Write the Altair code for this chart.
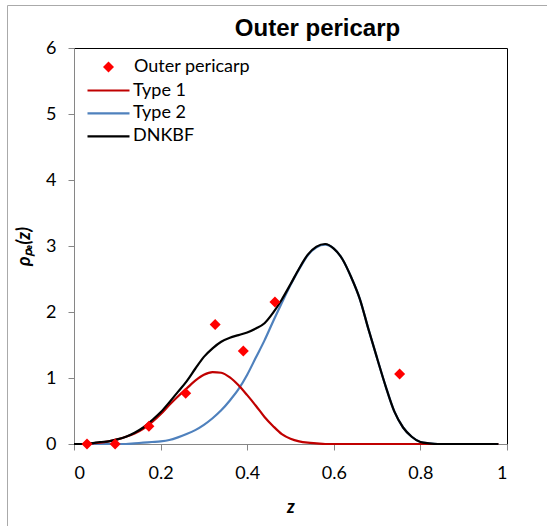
import altair as alt
import pandas as pd

# ---- data ----
z = [0.00, 0.02, 0.04, 0.06, 0.08, 0.10, 0.12, 0.14, 0.16, 0.18,
     0.20, 0.22, 0.24, 0.26, 0.28, 0.30, 0.32, 0.34, 0.36, 0.38,
     0.40, 0.42, 0.44, 0.46, 0.48, 0.50, 0.52, 0.54, 0.56, 0.58,
     0.60, 0.62, 0.64, 0.66, 0.68, 0.70, 0.72, 0.74, 0.76, 0.78,
     0.80, 0.82, 0.84, 0.86, 0.88, 0.90, 0.92, 0.94, 0.96, 0.98]

type1 = [0, 0, 0.01, 0.02, 0.04, 0.07, 0.11, 0.16, 0.23, 0.33,
         0.45, 0.59, 0.72, 0.84, 0.96, 1.05, 1.09, 1.08, 1.01, 0.89,
         0.74, 0.58, 0.41, 0.27, 0.15, 0.08, 0.04, 0.02, 0.01, 0,
         0, 0, 0, 0, 0, 0, 0, 0, 0, 0,
         0, 0, 0, 0, 0, 0, 0, 0, 0, 0]

type2 = [0, 0, 0, 0, 0, 0, 0, 0.01, 0.02, 0.03,
         0.04, 0.06, 0.10, 0.15, 0.21, 0.29, 0.39, 0.51, 0.66, 0.83,
         1.05, 1.31, 1.57, 1.86, 2.14, 2.41, 2.65, 2.86, 2.98, 3.02,
         2.96, 2.80, 2.53, 2.20, 1.74, 1.30, 0.87, 0.49, 0.25, 0.11,
         0.03, 0.01, 0, 0, 0, 0, 0, 0, 0, 0]

dnkbf = [0, 0, 0.01, 0.03, 0.04, 0.07, 0.11, 0.17, 0.25, 0.36,
         0.48, 0.63, 0.79, 0.95, 1.14, 1.32, 1.45, 1.55, 1.61, 1.65,
         1.69, 1.75, 1.83, 1.99, 2.19, 2.42, 2.66, 2.87, 2.99, 3.03,
         2.96, 2.80, 2.53, 2.20, 1.74, 1.30, 0.87, 0.49, 0.25, 0.11,
         0.03, 0.01, 0, 0, 0, 0, 0, 0, 0, 0]

obs_z = [0.030, 0.095, 0.173, 0.258, 0.326, 0.391, 0.464, 0.752]
obs_rho = [0.00, 0.00, 0.27, 0.77, 1.81, 1.41, 2.15, 1.06]

x_ticks = [0, 0.2, 0.4, 0.6, 0.8, 1]
y_ticks = [0, 1, 2, 3, 4, 5, 6]

series_names = ["Type 1", "Type 2", "DNKBF"]
series_colors = ["#C00000", "#4F81BD", "#000000"]
series_widths = [2.2, 2.2, 2.6]
obs_name = "Outer pericarp"

# ---- tables ----
lines = pd.DataFrame({
    "z": z * 3,
    "rho": type1 + type2 + dnkbf,
    "series": [series_names[0]] * len(z) + [series_names[1]] * len(z) + [series_names[2]] * len(z),
})
pts = pd.DataFrame({"z": obs_z, "rho": obs_rho, "label": [obs_name] * len(obs_z)})

FONT = "Lato"

x_enc = alt.X(
    "z:Q",
    scale=alt.Scale(domain=[0, 1], nice=False, zero=False),
    axis=alt.Axis(values=x_ticks, format="~g", title="z", grid=False,
                  titleFontStyle="italic", titleFontWeight="bold",
                  titleFontSize=18, titleFont=FONT, titlePadding=16,
                  labelPadding=14),
)
y_enc = alt.Y(
    "rho:Q",
    scale=alt.Scale(domain=[0, 6], nice=False),
    axis=alt.Axis(values=y_ticks, title="ρₚₑ(z)", grid=False,
                  titleFontStyle="italic", titleFontWeight="bold",
                  titleFontSize=18, titleFont=FONT, titlePadding=12,
                  labelPadding=12),
)

stroke_enc = alt.Stroke(
    "series:N",
    scale=alt.Scale(domain=series_names, range=series_colors),
    legend=alt.Legend(orient="none", legendX=25.5, legendY=33.5, title=None,
                      symbolType="M-10.5,0H10.5", symbolSize=16, symbolStrokeWidth=2.5,
                      labelOffset=15.5, rowPadding=4.9, padding=0,
                      labelFont=FONT, labelFontSize=18, labelColor="black"),
)
width_enc = alt.StrokeWidth(
    "series:N",
    scale=alt.Scale(domain=series_names, range=series_widths),
    legend=None,
)

frame_src = pd.DataFrame({"d": [0]})
frame_left = alt.Chart(frame_src).mark_rule(color="#AAAAAA", strokeWidth=1).encode(
    x=alt.value(-66.5), y=alt.value(-42.5), y2=alt.value(600)
)
frame_top = alt.Chart(frame_src).mark_rule(color="#AAAAAA", strokeWidth=1).encode(
    x=alt.value(-66.5), x2=alt.value(600), y=alt.value(-42.5)
)

def line_layer(name):
    return alt.Chart(lines).transform_filter(
        alt.datum.series == name
    ).mark_line(interpolate="monotone").encode(
        x=x_enc, y=y_enc, stroke=stroke_enc, strokeWidth=width_enc
    )

points = alt.Chart(pts).mark_point(
    filled=True, shape="diamond", size=121, strokeWidth=0, opacity=1
).encode(
    x=x_enc, y=y_enc,
    fill=alt.Fill(
        "label:N",
        scale=alt.Scale(domain=[obs_name], range=["#FF0000"]),
        legend=alt.Legend(orient="none", legendX=25.5, legendY=10, title=None,
                          symbolType="diamond", symbolSize=121, symbolStrokeWidth=0,
                          labelOffset=16.5, padding=0,
                          labelFont=FONT, labelFontSize=18, labelColor="black"),
    ),
)

chart = alt.layer(
    frame_left,
    frame_top,
    line_layer("Type 2"),
    line_layer("Type 1"),
    line_layer("DNKBF"),
    points,
).properties(
    width=433,
    height=396,
    title=alt.TitleParams("Outer pericarp", font="Liberation Sans", fontSize=24,
                          fontWeight="bold", color="black", anchor="middle",
                          frame="group", baseline="alphabetic",
                          dx=27, offset=-54.5),
    autosize=alt.AutoSizeParams(type="none"),
    padding={"left": 74, "top": 48, "right": 40, "bottom": 82},
).configure(
    background="white"
).configure_view(
    stroke="black", strokeWidth=1
).configure_axis(
    domainColor="#868686", tickColor="#868686", tickSize=6,
    labelFont=FONT, labelFontSize=18, labelColor="black", titleColor="black",
)

chart.save("out.html", embed_options={"renderer": "svg", "actions": False})
